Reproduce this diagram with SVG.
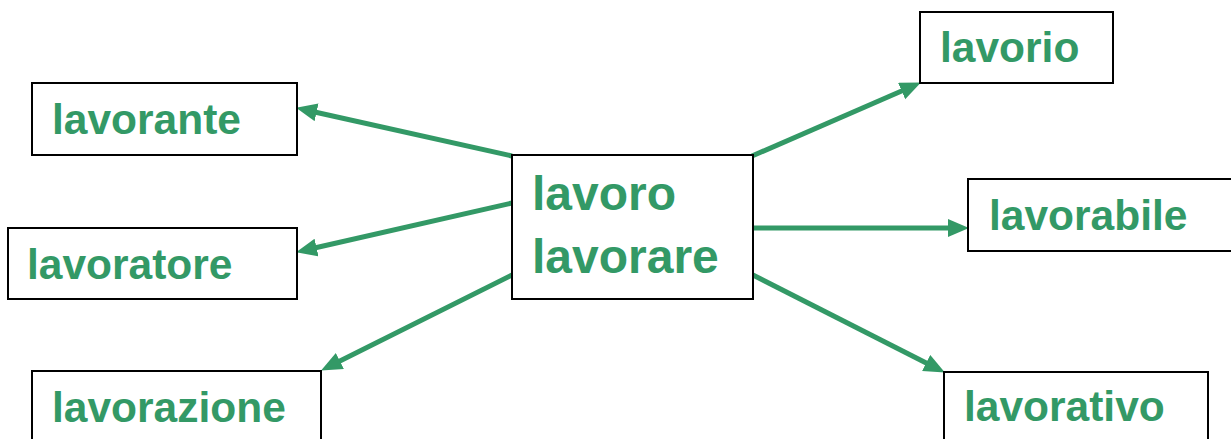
<svg xmlns="http://www.w3.org/2000/svg" width="1231" height="439" viewBox="0 0 1231 439">
<style>
.box{fill:#fff;stroke:#000;stroke-width:2}
.t{font-family:"Liberation Sans",Arial,sans-serif;font-weight:bold;font-size:42.5px;fill:#339966}
.c{font-size:48px}
.arr{stroke:#339966;stroke-width:5;fill:none;marker-end:url(#ah)}
</style>
<defs>
<marker id="ah" markerUnits="userSpaceOnUse" markerWidth="24" markerHeight="20" refX="10" refY="9" orient="auto" viewBox="0 0 24 20">
<path d="M0,0 L21,9 L0,18 z" fill="#339966"/>
</marker>
</defs>
<rect width="1231" height="439" fill="#fff"/>
<g id="connectors">
<line class="arr" x1="512" y1="156" x2="306.8" y2="110.2"/>
<line class="arr" x1="512" y1="203" x2="306.8" y2="249.8"/>
<line class="arr" x1="512" y1="275" x2="330.9" y2="365.5"/>
<line class="arr" x1="752" y1="156" x2="910.8" y2="87"/>
<line class="arr" x1="753" y1="228" x2="958" y2="228"/>
<line class="arr" x1="753" y1="275" x2="935.1" y2="367.5"/>
</g>
<g id="center">
<rect class="box" x="512" y="155" width="241" height="144"/>
<text class="t c" x="532" y="210">lavoro</text>
<text class="t c" x="532" y="273">lavorare</text>
</g>
<g id="lavorante">
<rect class="box" x="32" y="83" width="265" height="72"/>
<text class="t" x="52" y="134">lavorante</text>
</g>
<g id="lavoratore">
<rect class="box" x="8" y="228" width="289" height="71"/>
<text class="t" x="27" y="279">lavoratore</text>
</g>
<g id="lavorazione">
<rect class="box" x="32" y="371" width="289" height="80"/>
<text class="t" x="52" y="422">lavorazione</text>
</g>
<g id="lavorio">
<rect class="box" x="920" y="12" width="193" height="71"/>
<text class="t" x="940" y="62">lavorio</text>
</g>
<g id="lavorabile">
<rect class="box" x="968" y="179" width="275" height="72"/>
<text class="t" x="989" y="230">lavorabile</text>
</g>
<g id="lavorativo">
<rect class="box" x="944" y="372" width="264" height="80"/>
<text class="t" x="964" y="421">lavorativo</text>
</g>
</svg>
